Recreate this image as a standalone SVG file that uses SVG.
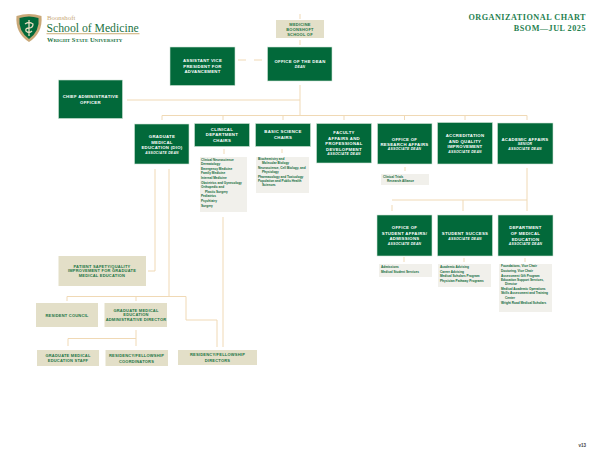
<svg xmlns="http://www.w3.org/2000/svg" width="600" height="464" viewBox="0 0 600 464">
<style>
.g{fill:#02693a;stroke:#cfe3d6;stroke-width:.6}
.t{fill:#e3dfc8}
.l{fill:#f1f0eb}
.c{fill:none;stroke:#f0d9b5;stroke-width:1}
text{font-family:"Liberation Sans",Arial,sans-serif}
.h{fill:#fff;font-size:4.3px;font-weight:700;text-anchor:middle;letter-spacing:.28px}
.s{fill:#fff;font-size:3.4px;font-weight:700;font-style:italic;text-anchor:middle;letter-spacing:.25px}
.d{fill:#1a7545;font-size:4px;font-weight:700;text-anchor:middle;letter-spacing:.22px}
.i{fill:#0f6a3a;font-size:3.15px;font-weight:700}
.r{font-family:"Liberation Serif",serif;fill:#1f7f50;font-size:8.2px;font-weight:700;text-anchor:end;letter-spacing:.5px}
</style>
<g id="connectors" class="c">
<path d="M300 14V19M300 40V45M238 60H246M254 60H262M300 85V115.500M127 100H300M162 120V115.500H527V120M223 115.500V120M283 115.500V120M344 115.500V120M404.500 115.500V120M465 115.500V120"/>
<path d="M224 149V154M282 149V153M405 167V171M155 169V271H148M169 169V296.500M67 301V296.500H186V320H217V347M136 296.500V301M136 330V346M136 338.500H68V346M223 217V347"/>
<path d="M527 168V211M392 205V211M392 200H527M463 200V211M404 257V262M464 258V262M525 258V262"/>
</g>
<g id="logo">
<path d="M16.500 16Q29 12 41.500 16Q43 33 29 42Q15 33 16.500 16Z" fill="#c9a878"/>
<path d="M19.500 18Q29 15 38.500 18Q40 31 29 39Q18 31 19.500 18Z" fill="#02693a"/>
<path d="M29 20V36M25 24Q29 21 33 24Q33 28 29 28Q25 28 26 31Q29 34 32 31" fill="none" stroke="#e6dcc0" stroke-width="1.300"/>
<text x="47" y="20" style="font-family:'Liberation Serif',serif;font-size:6.800px;fill:#c9a878">Boonshoft</text>
<text x="46.500" y="31.500" style="font-family:'Liberation Serif',serif;font-size:11.700px;fill:#1b7343">School of Medicine</text>
<rect x="46.500" y="33" width="93" height="1.300" fill="#d7bf94"/>
<text x="47" y="41.500" style="font-family:'Liberation Serif',serif;font-size:6.500px;font-weight:700;font-variant:small-caps;fill:#1b7343">Wright State University</text>
</g>
<g id="title"><text class="r" x="586" y="20">ORGANIZATIONAL CHART</text><text class="r" x="586" y="31">BSOM—JUL 2025</text></g>
<g id="school"><rect class="t" x="276" y="20" width="48" height="18"/><text class="d" x="300" y="25.500">MEDICINE</text><text class="d" x="300" y="30.500">BOONSHOFT</text><text class="d" x="300" y="35.500">SCHOOL OF</text></g>
<g id="avp"><rect class="g" x="170" y="47" width="65" height="38.500"/><text class="h" x="202.500" y="62">ASSISTANT VICE</text><text class="h" x="202.500" y="67.500">PRESIDENT FOR</text><text class="h" x="202.500" y="73">ADVANCEMENT</text></g>
<g id="dean"><rect class="g" x="267.500" y="47" width="64.500" height="34"/><text class="h" x="300" y="63">OFFICE OF THE DEAN</text><text class="s" x="300" y="67.500">DEAN</text></g>
<g id="cao"><rect class="g" x="58.500" y="80" width="64" height="38.500"/><text class="h" x="90.500" y="98">CHIEF ADMINISTRATIVE</text><text class="h" x="90.500" y="103.500">OFFICER</text></g>
<g id="gme"><rect class="g" x="134.500" y="124" width="54.500" height="40"/><text class="h" x="162" y="138">GRADUATE</text><text class="h" x="162" y="143.500">MEDICAL</text><text class="h" x="162" y="149">EDUCATION (DIO)</text><text class="s" x="162" y="153.500">ASSOCIATE DEAN</text></g>
<g id="clinical"><rect class="g" x="194.500" y="123.500" width="55" height="23"/><text class="h" x="222" y="130.500">CLINICAL</text><text class="h" x="222" y="136">DEPARTMENT</text><text class="h" x="222" y="141.500">CHAIRS</text></g>
<g id="basic"><rect class="g" x="255.500" y="123.500" width="55" height="23"/><text class="h" x="283" y="133">BASIC SCIENCE</text><text class="h" x="283" y="139">CHAIRS</text></g>
<g id="faculty"><rect class="g" x="316.500" y="123.500" width="55" height="39.500"/><text class="h" x="344" y="134">FACULTY</text><text class="h" x="344" y="139.500">AFFAIRS AND</text><text class="h" x="344" y="145">PROFESSIONAL</text><text class="h" x="344" y="150.500">DEVELOPMENT</text><text class="s" x="344" y="155">ASSOCIATE DEAN</text></g>
<g id="research"><rect class="g" x="377.500" y="123.500" width="54.500" height="40.500"/><text class="h" x="404.500" y="140.500">OFFICE OF</text><text class="h" x="404.500" y="145.500">RESEARCH AFFAIRS</text><text class="s" x="404.500" y="150">ASSOCIATE DEAN</text></g>
<g id="accreditation"><rect class="g" x="437.500" y="122.500" width="55" height="41.500"/><text class="h" x="465" y="137">ACCREDITATION</text><text class="h" x="465" y="142.500">AND QUALITY</text><text class="h" x="465" y="147.500">IMPROVEMENT</text><text class="s" x="465" y="152.500">ASSOCIATE DEAN</text></g>
<g id="academic"><rect class="g" x="497.500" y="123" width="55.500" height="41"/><text class="h" x="525" y="140.500">ACADEMIC AFFAIRS</text><text class="s" x="525" y="145">SENIOR</text><text class="s" x="525" y="149.500">ASSOCIATE DEAN</text></g>
<g id="clinical-list"><rect class="l" x="200" y="157" width="47" height="55"/>
<text class="i" x="201" y="161">Clinical Neuroscience</text><text class="i" x="201" y="165.300">Dermatology</text><text class="i" x="201" y="169.700">Emergency Medicine</text><text class="i" x="201" y="174">Family Medicine</text><text class="i" x="201" y="179.300">Internal Medicine</text><text class="i" x="201" y="184">Obstetrics and Gynecology</text><text class="i" x="201" y="188.300">Orthopedic and</text><text class="i" x="205" y="192.700">Plastic Surgery</text><text class="i" x="201" y="197.300">Pediatrics</text><text class="i" x="201" y="202">Psychiatry</text><text class="i" x="201" y="206.700">Surgery</text></g>
<g id="basic-list"><rect class="l" x="256" y="157" width="53" height="36"/>
<text class="i" x="258" y="160.300">Biochemistry and</text><text class="i" x="262" y="164.300">Molecular Biology</text><text class="i" x="258" y="168.700">Neuroscience, Cell Biology, and</text><text class="i" x="262" y="172.700">Physiology</text><text class="i" x="258" y="177.700">Pharmacology and Toxicology</text><text class="i" x="258" y="182">Population and Public Health</text><text class="i" x="262" y="185.700">Sciences</text></g>
<g id="research-list"><rect class="l" x="381" y="174" width="48" height="11"/><text class="i" x="383" y="178">Clinical Trials</text><text class="i" x="387" y="182">Research Alliance</text></g>
<g id="student-affairs"><rect class="g" x="377" y="215" width="55" height="41"/><text class="h" x="404.500" y="229">OFFICE OF</text><text class="h" x="404.500" y="234.500">STUDENT AFFAIRS/</text><text class="h" x="404.500" y="240">ADMISSIONS</text><text class="s" x="404.500" y="244.500">ASSOCIATE DEAN</text></g>
<g id="student-success"><rect class="g" x="437.500" y="215" width="55" height="41"/><text class="h" x="465" y="234.500">STUDENT SUCCESS</text><text class="s" x="465" y="239.500">ASSOCIATE DEAN</text></g>
<g id="dme"><rect class="g" x="498" y="215" width="55" height="41"/><text class="h" x="525.500" y="229">DEPARTMENT</text><text class="h" x="525.500" y="234.500">OF MEDICAL</text><text class="h" x="525.500" y="240.500">EDUCATION</text><text class="s" x="525.500" y="245">ASSOCIATE DEAN</text></g>
<g id="student-list"><rect class="l" x="379" y="264" width="53" height="13"/><text class="i" x="381" y="268">Admissions</text><text class="i" x="381" y="272.700">Medical Student Services</text></g>
<g id="success-list"><rect class="l" x="438" y="264" width="53" height="23"/><text class="i" x="440" y="268">Academic Advising</text><text class="i" x="440" y="272.700">Career Advising</text><text class="i" x="440" y="277">Medical Scholars Program</text><text class="i" x="440" y="281.700">Physician Pathway Programs</text></g>
<g id="dme-list"><rect class="l" x="499" y="264" width="53" height="48"/><text class="i" x="501" y="267">Foundations, Vice Chair</text><text class="i" x="501" y="272">Doctoring, Vice Chair</text><text class="i" x="501" y="276.700">Assessment Gift Program</text><text class="i" x="501" y="280.700">Education Support Services,</text><text class="i" x="505" y="285">Director</text><text class="i" x="501" y="290">Medical Academic Operations</text><text class="i" x="501" y="294.300">Skills Assessment and Training</text><text class="i" x="505" y="299">Center</text><text class="i" x="501" y="304">Wright Road Medical Scholars</text></g>
<g id="patient-safety"><rect class="t" x="58.500" y="256" width="87.500" height="30"/><text class="d" x="102" y="267.500">PATIENT SAFETY/QUALITY</text><text class="d" x="102" y="272">IMPROVEMENT FOR GRADUATE</text><text class="d" x="102" y="277">MEDICAL EDUCATION</text></g>
<g id="resident-council"><rect class="t" x="36" y="303" width="62" height="24"/><text class="d" x="67" y="316.500">RESIDENT COUNCIL</text></g>
<g id="gme-admin"><rect class="t" x="104.500" y="303" width="62.500" height="24"/><text class="d" x="136" y="311.500">GRADUATE MEDICAL</text><text class="d" x="136" y="316">EDUCATION</text><text class="d" x="136" y="321">ADMINISTRATIVE DIRECTOR</text></g>
<g id="gme-staff"><rect class="t" x="37" y="350" width="62" height="16"/><text class="d" x="68" y="357">GRADUATE MEDICAL</text><text class="d" x="68" y="361.500">EDUCATION STAFF</text></g>
<g id="coordinators"><rect class="t" x="105.500" y="350" width="62.500" height="16"/><text class="d" x="136.500" y="356.500">RESIDENCY/FELLOWSHIP</text><text class="d" x="136.500" y="362.500">COORDINATORS</text></g>
<g id="directors"><rect class="t" x="178" y="350" width="79" height="15"/><text class="d" x="217.500" y="355.500">RESIDENCY/FELLOWSHIP</text><text class="d" x="217.500" y="361.500">DIRECTORS</text></g>
<text x="586" y="447" style="font-family:'Liberation Sans',sans-serif;font-size:4.500px;font-weight:700;fill:#444;text-anchor:end">v13</text>
</svg>
